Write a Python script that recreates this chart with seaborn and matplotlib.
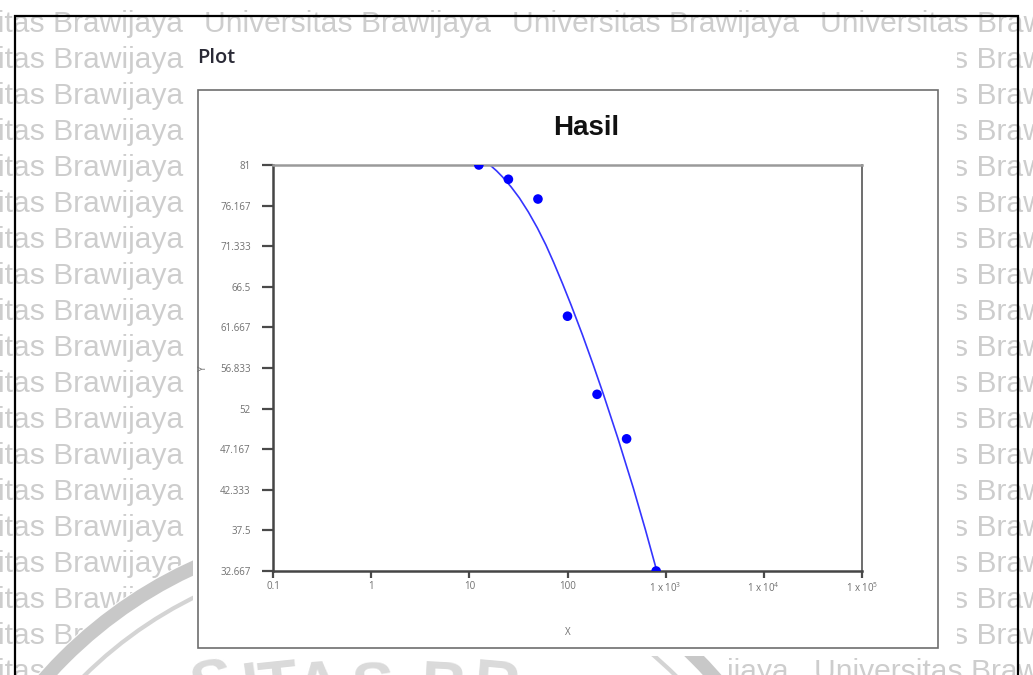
import matplotlib
matplotlib.use("Agg")
import matplotlib.pyplot as plt
from matplotlib.patches import Rectangle, Circle
from matplotlib.ticker import NullLocator
import pandas as pd
import seaborn as sns

# measured points (concentration vs response)
conc = [12.5, 25, 50, 100, 200, 400, 800]
resp = [81.0, 79.3, 76.95, 63.0, 53.7, 48.4, 32.667]

# fitted curve, points
fit_x = [16.23, 19.0, 21.82, 26.69, 32.39, 39.96, 49.35, 60.24, 71.98, 89.33,
         108.8, 142.2, 183.1, 231.6, 325.3, 468.1, 622.9, 812.2]
fit_y = [81.0, 80.29, 79.57, 78.38, 77.07, 75.40, 73.50, 71.48, 69.45, 66.83,
         64.33, 60.76, 57.19, 53.74, 48.50, 42.55, 37.55, 32.667]

y_ticks = [32.667, 37.5, 42.333, 47.167, 52, 56.833, 61.667, 66.5, 71.333, 76.167, 81]
y_labels = ["32.667", "37.5", "42.333", "47.167", "52", "56.833", "61.667", "66.5", "71.333", "76.167", "81"]
x_ticks = [0.1, 1, 10, 100, 1000, 10000, 100000]
x_labels = ["0.1", "1", "10", "100", "1 x 10$^{3}$", "1 x 10$^{4}$", "1 x 10$^{5}$"]

sns.set_theme(style="white")
plt.rcParams["font.family"] = ["Open Sans", "DejaVu Sans"]
plt.rcParams["mathtext.default"] = "regular"

W, H = 1033, 675
fig = plt.figure(figsize=(W / 100, H / 100), dpi=100)
fig.patch.set_facecolor("white")

# background layer in pixel coords: watermark page, pasted screenshot, frame
bg = fig.add_axes([0, 0, 1, 1])
bg.set_xlim(0, W)
bg.set_ylim(H, 0)
bg.axis("off")

wm = dict(fontsize=21.6, color="#cdcdcd", family="Liberation Sans",
          va="baseline", ha="left", zorder=1)
# top row, fully visible
for x0 in [-104, 204, 512, 820]:
    bg.text(x0, 32, "Universitas Brawijaya", **wm)
# left column (only the visible part of each line)
left_txt = ["itas Brawijaya"] * 15 + ["itas Brawij", "itas Br", "itas"]
for k, s in enumerate(left_txt, start=1):
    bg.text(-2, 32 + 36 * k, s, **wm)
# right column
for k in range(1, 18):
    bg.text(953, 32 + 36 * k, "s Brawijaya", **wm)
# bottom row, right part
bg.text(727, 680, "ijaya", **wm)
bg.text(814, 680, "Universitas Brawijaya", **wm)

# university logo ring at the bottom
bg.add_patch(Circle((380, 974), 455, facecolor="white", edgecolor="none", zorder=2))
bg.add_patch(Circle((380, 974), 447, fill=False, edgecolor="#c8c8c8", lw=10, zorder=3))
bg.add_patch(Circle((380, 974), 420, fill=False, edgecolor="#d4d4d4", lw=3, zorder=3))
for ch, cx, rot in zip("SITASBR", [212, 252, 278, 318, 372, 444, 496], [10, 8, 6, 4, 1, -3, -5]):
    bg.text(cx, 708, ch, fontsize=46, fontweight="bold", color="#dadada",
            family="Liberation Sans", ha="center", va="baseline", rotation=rot, zorder=3)

# pasted screenshot area
bg.add_patch(Rectangle((193, 38), 957 - 193, 656 - 38, facecolor="white", edgecolor="none", zorder=4))
bg.add_patch(Rectangle((198, 90), 740, 558, fill=False, edgecolor="#6e6e6e", lw=1.2, zorder=5))
bg.text(197, 63, "Plot", fontsize=14.5, fontweight="semibold", color="#2a2a36",
        va="baseline", ha="left", zorder=5)
bg.text(586, 135, "Hasil", fontsize=20, fontweight="bold", color="#111111",
        family="Liberation Sans", va="baseline", ha="center", zorder=5)

# page frame
bg.plot([15, 15, 1018, 1018], [700, 16, 16, 700], color="black", lw=1.6, zorder=6,
        solid_joinstyle="miter")

# chart
ax = fig.add_axes([273 / W, 1 - 571 / H, 589 / W, 406 / H])
ax.set_facecolor("white")
curve = pd.DataFrame({"x": fit_x, "y": fit_y})
pts = pd.DataFrame({"x": conc, "y": resp})
sns.lineplot(data=curve, x="x", y="y", ax=ax, color="#3535ff", lw=1.2,
             sort=False, estimator=None)
sns.scatterplot(data=pts, x="x", y="y", ax=ax, color="#0000ff", s=48,
                edgecolor="none", zorder=3)

ax.set_xscale("log")
ax.set_xlim(0.1, 1e5)
ax.set_ylim(32.667, 81)
ax.set_xticks(x_ticks, x_labels)
ax.set_yticks(y_ticks, y_labels)
ax.xaxis.set_minor_locator(NullLocator())

ax.tick_params(axis="y", direction="out", length=8, width=1.6, color="#4a4a4a",
               labelsize=7, labelcolor="#707070", pad=8, left=True)
ax.tick_params(axis="x", direction="out", length=5, width=1.6, color="#4a4a4a",
               labelsize=7, labelcolor="#707070", pad=2, bottom=True)

for side, col, w in [("left", "#454545", 1.8), ("bottom", "#454545", 1.8),
                     ("top", "#9a9a9a", 1.8), ("right", "#555555", 1.2)]:
    ax.spines[side].set_visible(True)
    ax.spines[side].set_color(col)
    ax.spines[side].set_linewidth(w)

ax.set_xlabel("X", fontsize=7, color="#707070")
ax.set_ylabel("Y", fontsize=7, color="#707070")
ax.xaxis.set_label_coords(0.5, -0.138)
ax.yaxis.set_label_coords(-0.108, 0.5)

fig.savefig("out.png", dpi=100, facecolor="white")
